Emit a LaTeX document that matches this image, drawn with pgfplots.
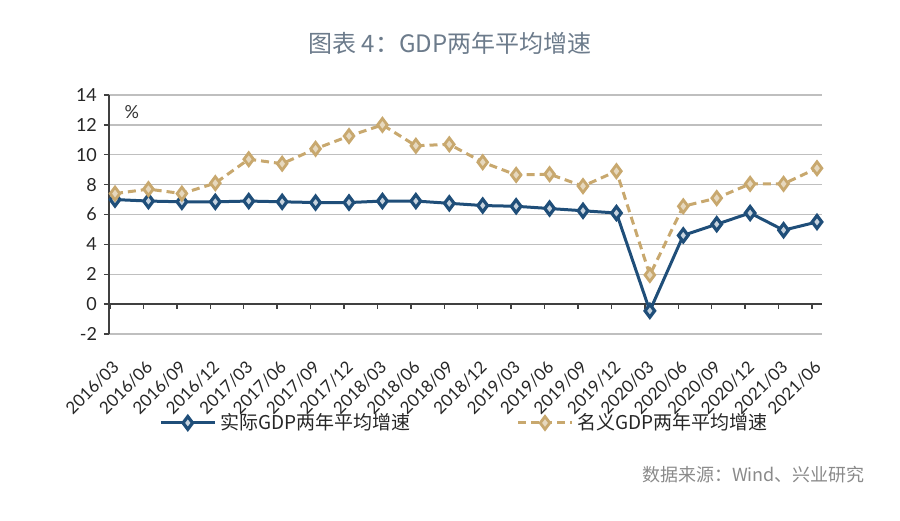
\documentclass[border=0pt]{standalone}
\usepackage{fontspec}
\usepackage{pgfplots}
\usepackage{pgfplotstable}
\pgfplotsset{compat=1.18}
\setmainfont{Lato}
\newfontfamily\cjk{Noto Sans CJK SC}
\definecolor{realblue}{HTML}{1F4E79}
\definecolor{nomgold}{HTML}{C8A86E}
\definecolor{gridgray}{HTML}{BFBFBF}
\definecolor{titlecol}{HTML}{6C7B8B}
\definecolor{axisgray}{HTML}{404040}
\definecolor{srcgray}{HTML}{8A8A8A}

\pgfplotstableread{
x real nom
0 7.0 7.4
1 6.9 7.7
2 6.85 7.4
3 6.85 8.1
4 6.9 9.7
5 6.85 9.4
6 6.8 10.4
7 6.8 11.25
8 6.9 12.0
9 6.9 10.6
10 6.75 10.7
11 6.6 9.5
12 6.55 8.65
13 6.4 8.7
14 6.25 7.9
15 6.1 8.9
16 -0.45 1.95
17 4.6 6.55
18 5.35 7.1
19 6.1 8.05
20 4.95 8.05
21 5.5 9.1
}\gdpdata

\begin{document}
\begin{tikzpicture}
\useasboundingbox (0,0) rectangle (450pt,260pt);
\node[font=\cjk\fontsize{12}{14}\selectfont, text=titlecol] at (225pt,238.5pt) {图表 4：GDP两年平均增速};
\begin{axis}[
  at={(54.5pt,93pt)}, anchor=south west,
  scale only axis, width=356.5pt, height=119.5pt,
  xmin=-0.18, xmax=21.15, ymin=-2, ymax=14,
  ytick={-2,0,...,14},
  xtick={0,...,21},
  xticklabels={2016/03,2016/06,2016/09,2016/12,2017/03,2017/06,2017/09,2017/12,2018/03,2018/06,2018/09,2018/12,2019/03,2019/06,2019/09,2019/12,2020/03,2020/06,2020/09,2020/12,2021/03,2021/06},
  axis x line*=bottom, axis y line*=left,
  x axis line style={draw=none},
  y axis line style={axisgray, line width=0.75pt},
  xtick style={draw=none},
  ytick style={axisgray, line width=0.75pt},
  tick align=outside, major tick length=2.5pt,
  ymajorgrids, grid style={gridgray, line width=0.75pt},
  /pgf/number format/assume math mode=true,
  yticklabel style={font=\fontsize{9}{10}\selectfont, text=black!85},
  xticklabel style={font=\fontsize{8.5}{10}\selectfont, text=black!85, xshift=3pt, yshift=-10pt, rotate=45, anchor=east},
  legend columns=2,
  legend style={at={(0.07,-0.372)}, anchor=west, draw=none, fill=none, inner sep=0pt,
    font=\cjk\fontsize{9.5}{11}\selectfont, text=black!85,
    /tikz/every even column/.append style={column sep=51pt}},
  legend image code/.code={\draw[mark repeat=2,mark phase=2] plot coordinates {(0pt,0pt) (13.5pt,0pt) (27pt,0pt)};},
  clip=false,
]
\draw[axisgray, line width=0.75pt] (axis cs:-0.18,0) -- (axis cs:21.15,0);
\pgfplotsinvokeforeach{-0.15,0.85,1.85,2.85,3.85,4.85,5.85,6.85,7.85,8.85,9.85,10.85,11.85,12.85,13.85,14.85,15.85,16.85,17.85,18.85,19.85,20.85}{\draw[axisgray, line width=0.75pt] (axis cs:#1,0) -- (axis cs:#1,-0.33);}
\addplot[realblue, line width=1.5pt, mark=diamond*, mark size=3.2pt,
  mark options={solid, fill=realblue!25!white, draw=realblue, line width=1.6pt}]
  table[x=x,y=real]{\gdpdata};
\addlegendentry{实际GDP两年平均增速}
\addplot[nomgold, line width=1.5pt, dash pattern=on 4pt off 2.5pt, mark=diamond*, mark size=3.2pt,
  mark options={solid, fill=nomgold!45!white, draw=nomgold, line width=1.4pt}]
  table[x=x,y=nom]{\gdpdata};
\addlegendentry{名义GDP两年平均增速}
\node[anchor=west, font=\fontsize{9}{10}\selectfont, text=black!80] at (rel axis cs:0.012,0.93) {\%};
\end{axis}
\node[anchor=east, font=\cjk\fontsize{9}{11}\selectfont, text=srcgray] at (436pt,22.5pt) {数据来源：Wind、兴业研究};
\end{tikzpicture}
\end{document}
